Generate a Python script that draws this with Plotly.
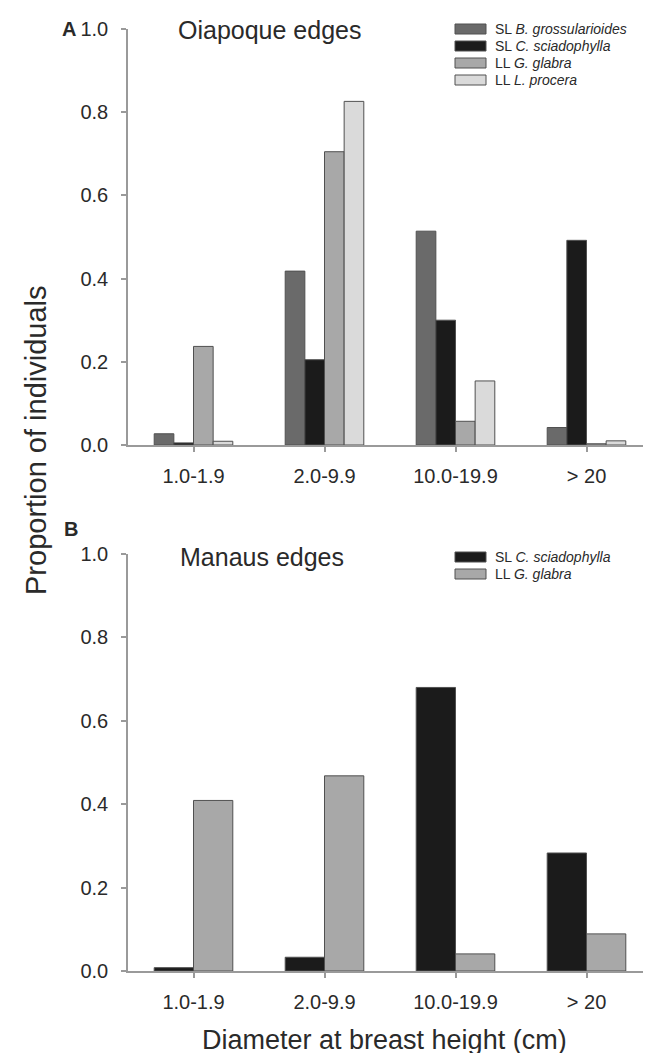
import plotly.graph_objects as go

# ---------------- data ----------------
categories = ["1.0-1.9", "2.0-9.9", "10.0-19.9", "> 20"]

# Panel A: Oiapoque edges
oiapoque_series = ["SL <i>B. grossularioides</i>", "SL <i>C. sciadophylla</i>",
                   "LL <i>G. glabra</i>", "LL <i>L. procera</i>"]
oia_b_grossularioides = [0.027, 0.418, 0.514, 0.042]
oia_c_sciadophylla = [0.005, 0.205, 0.300, 0.492]
oia_g_glabra = [0.237, 0.705, 0.057, 0.003]
oia_l_procera = [0.009, 0.826, 0.154, 0.010]

# Panel B: Manaus edges
manaus_series = ["SL <i>C. sciadophylla</i>", "LL <i>G. glabra</i>"]
man_c_sciadophylla = [0.008, 0.033, 0.680, 0.283]
man_g_glabra = [0.409, 0.468, 0.041, 0.089]

y_ticks = [0.0, 0.2, 0.4, 0.6, 0.8, 1.0]

# ---------------- style ----------------
FONT = "Liberation Sans, Arial, sans-serif"
col_bg = "#6a6a6a"
col_cs = "#1b1b1b"
col_gg = "#a8a8a8"
col_lp = "#dadada"
edge = "#505050"
axis_col = "#9a9a9a"
text_col = "#2a2a2a"

W, H = 651, 1053
ML, MR, MT, MB = 120, 7, 21, 90
PW = W - ML - MR
PH = H - MT - MB


def px(x):
    return (x - ML) / PW


def py(y):
    return (H - MB - y) / PH


fig = go.Figure()

oia_vals = [oia_b_grossularioides, oia_c_sciadophylla, oia_g_glabra, oia_l_procera]
oia_cols = [col_bg, col_cs, col_gg, col_lp]
for name, vals, c in zip(oiapoque_series, oia_vals, oia_cols):
    fig.add_trace(go.Bar(x=categories, y=vals, name=name, marker_color=c,
                         marker_line_color=edge, marker_line_width=1,
                         xaxis="x", yaxis="y", offsetgroup=name + "A",
                         showlegend=False))

man_vals = [man_c_sciadophylla, man_g_glabra]
man_cols = [col_cs, col_gg]
for name, vals, c in zip(manaus_series, man_vals, man_cols):
    fig.add_trace(go.Bar(x=categories, y=vals, name=name, marker_color=c,
                         marker_line_color=edge, marker_line_width=1,
                         xaxis="x2", yaxis="y2", offsetgroup=name + "B",
                         showlegend=False))

axis_common = dict(showline=True, linecolor=axis_col, linewidth=1.5,
                   ticks="outside", ticklen=5, tickcolor=axis_col, tickwidth=1.5,
                   showgrid=False, zeroline=False,
                   tickfont=dict(family=FONT, size=20, color=text_col))

fig.update_layout(
    width=W, height=H,
    margin=dict(l=ML, r=MR, t=MT, b=MB),
    paper_bgcolor="white", plot_bgcolor="white",
    barmode="group", bargap=0.4, bargroupgap=0,
    font=dict(family=FONT, color=text_col),
    xaxis=dict(domain=[0, 1], anchor="y", type="category",
               range=[-0.5, 3.5], ticklabelstandoff=7, **axis_common),
    yaxis=dict(domain=[py(437), 1.0], anchor="x", range=[0, 1.0],
               tickvals=y_ticks, tickformat=".1f", ticklabelstandoff=9,
               **axis_common),
    xaxis2=dict(domain=[0, 1], anchor="y2", type="category",
                range=[-0.5, 3.5], ticklabelstandoff=7, **axis_common),
    yaxis2=dict(domain=[0, py(546)], anchor="x2", range=[0, 1.0],
                tickvals=y_ticks, tickformat=".1f", ticklabelstandoff=9,
                **axis_common),
)

ann = []
ann.append(dict(text="Oiapoque edges", x=px(168), y=py(22), xref="paper", yref="paper",
                xanchor="left", yanchor="middle", showarrow=False,
                font=dict(family=FONT, size=25, color=text_col)))
ann.append(dict(text="Manaus edges", x=px(170), y=py(549), xref="paper", yref="paper",
                xanchor="left", yanchor="middle", showarrow=False,
                font=dict(family=FONT, size=25, color=text_col)))
ann.append(dict(text="<b>A</b>", x=px(52), y=py(21), xref="paper", yref="paper",
                xanchor="left", yanchor="middle", showarrow=False,
                font=dict(family=FONT, size=20, color=text_col)))
ann.append(dict(text="<b>B</b>", x=px(54), y=py(521), xref="paper", yref="paper",
                xanchor="left", yanchor="middle", showarrow=False,
                font=dict(family=FONT, size=20, color=text_col)))
ann.append(dict(text="Proportion of individuals", x=px(28), y=py(432), xref="paper",
                yref="paper", xanchor="center", yanchor="middle", textangle=-90,
                showarrow=False, font=dict(family=FONT, size=29, color=text_col)))
ann.append(dict(text="Diameter at breast height (cm)", x=px(376), y=py(1032),
                xref="paper", yref="paper", xanchor="center", yanchor="middle",
                showarrow=False, font=dict(family=FONT, size=27, color=text_col)))

shapes = []
# custom legends (box swatches + labels)
leg_a_rows = [21, 38, 55, 72]
for name, c, yc in zip(oiapoque_series, oia_cols, leg_a_rows):
    shapes.append(dict(type="rect", xref="paper", yref="paper",
                       x0=px(447), x1=px(478), y0=py(yc + 5), y1=py(yc - 5),
                       fillcolor=c, line=dict(color=edge, width=1)))
    ann.append(dict(text=name, x=px(485), y=py(yc), xref="paper", yref="paper",
                    xanchor="left", yanchor="middle", showarrow=False,
                    font=dict(family=FONT, size=14, color=text_col)))
leg_b_rows = [549, 566]
for name, c, yc in zip(manaus_series, man_cols, leg_b_rows):
    shapes.append(dict(type="rect", xref="paper", yref="paper",
                       x0=px(447), x1=px(478), y0=py(yc + 5), y1=py(yc - 5),
                       fillcolor=c, line=dict(color=edge, width=1)))
    ann.append(dict(text=name, x=px(485), y=py(yc), xref="paper", yref="paper",
                    xanchor="left", yanchor="middle", showarrow=False,
                    font=dict(family=FONT, size=14, color=text_col)))

fig.update_layout(annotations=ann, shapes=shapes)

fig.write_html("out.html")
